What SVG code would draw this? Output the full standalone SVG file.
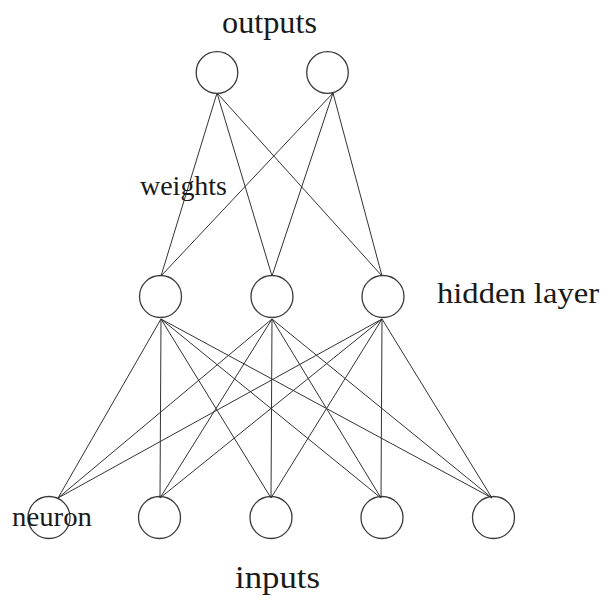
<svg xmlns="http://www.w3.org/2000/svg" width="603" height="601" viewBox="0 0 603 601">
<style>
.n{fill:none;stroke:#3a3a3a;stroke-width:1.3}
.e line{stroke:#333;stroke-width:1}
.t{font-family:"Liberation Serif","Times New Roman",serif;fill:#1a1a1a}
</style>
<rect width="603" height="601" fill="#fff"/>
<g id="connectors" class="e">
<line x1="217" y1="93" x2="161" y2="276"/>
<line x1="217" y1="93" x2="272" y2="276"/>
<line x1="217" y1="93" x2="382" y2="276"/>
<line x1="333" y1="93" x2="161" y2="276"/>
<line x1="333" y1="93" x2="272" y2="276"/>
<line x1="333" y1="93" x2="382" y2="276"/>
<line x1="161" y1="319" x2="58" y2="498"/>
<line x1="161" y1="319" x2="160" y2="498"/>
<line x1="161" y1="319" x2="271" y2="498"/>
<line x1="161" y1="319" x2="381" y2="498"/>
<line x1="161" y1="319" x2="492" y2="498"/>
<line x1="272" y1="319" x2="58" y2="498"/>
<line x1="272" y1="319" x2="160" y2="498"/>
<line x1="272" y1="319" x2="271" y2="498"/>
<line x1="272" y1="319" x2="381" y2="498"/>
<line x1="272" y1="319" x2="492" y2="498"/>
<line x1="382" y1="319" x2="58" y2="498"/>
<line x1="382" y1="319" x2="160" y2="498"/>
<line x1="382" y1="319" x2="271" y2="498"/>
<line x1="382" y1="319" x2="381" y2="498"/>
<line x1="382" y1="319" x2="492" y2="498"/>
</g>
<g id="out1"><circle class="n" cx="217" cy="72.5" r="20.8"/></g>
<g id="out2"><circle class="n" cx="327.5" cy="72.5" r="20.8"/></g>
<g id="hid1"><circle class="n" cx="160.5" cy="296.5" r="21"/></g>
<g id="hid2"><circle class="n" cx="272" cy="296.5" r="21"/></g>
<g id="hid3"><circle class="n" cx="383" cy="296.5" r="21"/></g>
<g id="in1"><circle class="n" cx="49" cy="517.5" r="21"/></g>
<g id="in2"><circle class="n" cx="159.5" cy="517.5" r="21"/></g>
<g id="in3"><circle class="n" cx="271" cy="517.5" r="21"/></g>
<g id="in4"><circle class="n" cx="382" cy="517.5" r="21"/></g>
<g id="in5"><circle class="n" cx="493.5" cy="517.5" r="21"/></g>
<g id="labels">
<text class="t" x="222" y="33" font-size="31" textLength="95" lengthAdjust="spacingAndGlyphs">outputs</text>
<text class="t" x="140" y="195" font-size="28" textLength="87" lengthAdjust="spacingAndGlyphs">weights</text>
<text class="t" x="437" y="303" font-size="30" textLength="162" lengthAdjust="spacingAndGlyphs">hidden layer</text>
<text class="t" x="12" y="526" font-size="28" textLength="80" lengthAdjust="spacingAndGlyphs">neuron</text>
<text class="t" x="235" y="588" font-size="31" textLength="85" lengthAdjust="spacingAndGlyphs">inputs</text>
</g>
</svg>
